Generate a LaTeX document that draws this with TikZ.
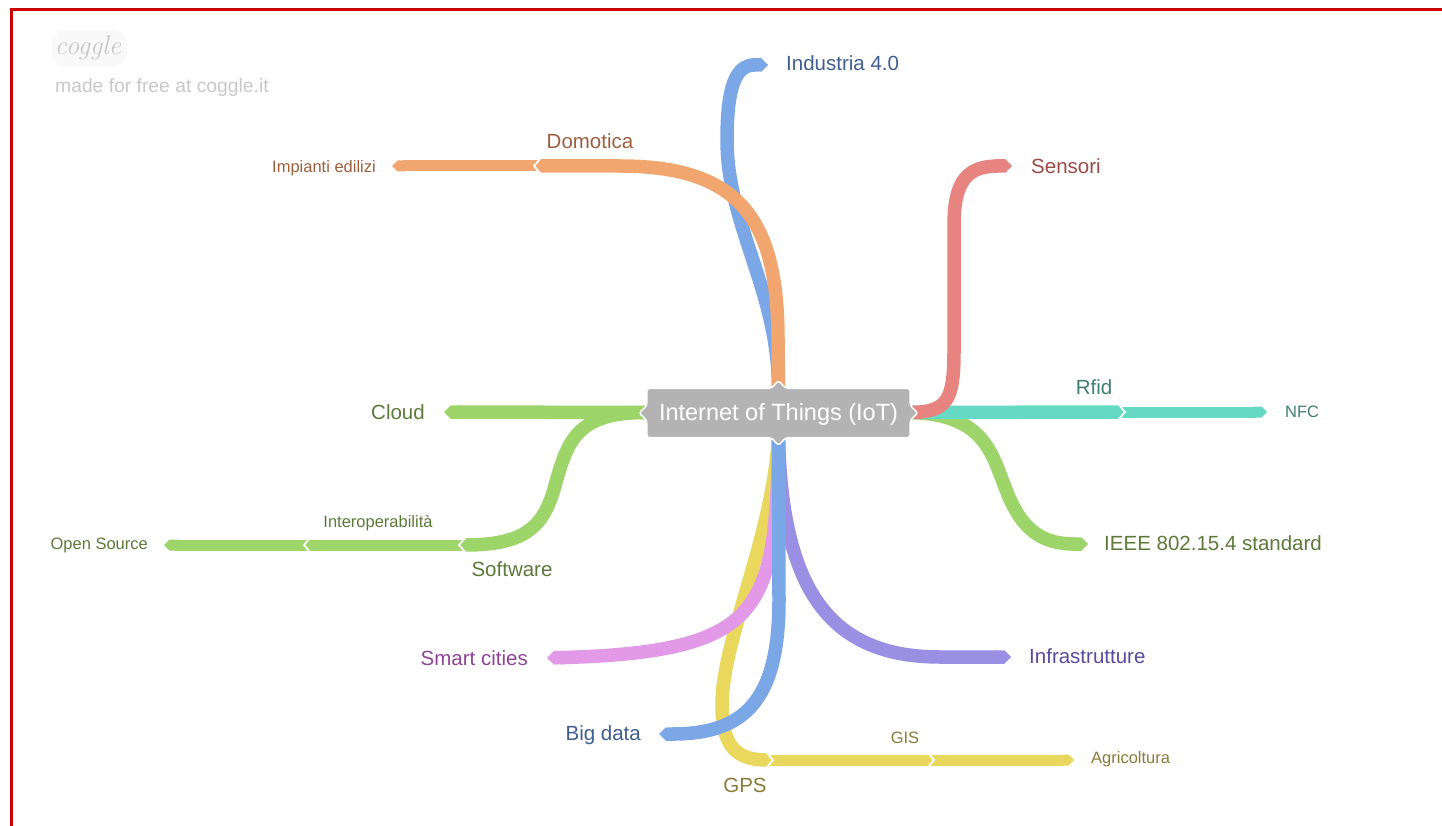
\documentclass[tikz,border=0pt]{standalone}
\usepackage{fontspec}
\setsansfont{Liberation Sans}
\usetikzlibrary{arrows.meta,calc}
\pgfdeclarelayer{branches}
\pgfdeclarelayer{nodebg}
\pgfsetlayers{branches,nodebg,main}
\definecolor{cblue}{HTML}{7BA7E6}
\definecolor{corange}{HTML}{F0A66E}
\definecolor{cred}{HTML}{E8847F}
\definecolor{cteal}{HTML}{66D9C5}
\definecolor{cgreen}{HTML}{9DD56A}
\definecolor{cpurple}{HTML}{9A8FE3}
\definecolor{cpink}{HTML}{E29AE8}
\definecolor{cyellow}{HTML}{EAD75E}
\definecolor{cgrey}{HTML}{B3B3B3}
\definecolor{tblue}{HTML}{3F5E91}
\definecolor{torange}{HTML}{9C5F3E}
\definecolor{tred}{HTML}{9C4A45}
\definecolor{tteal}{HTML}{3F8070}
\definecolor{tgreen}{HTML}{5C7A3A}
\definecolor{tpink}{HTML}{8E4596}
\definecolor{tpurple}{HTML}{5A4A9E}
\definecolor{tyellow}{HTML}{8A7B3A}
\definecolor{logogrey}{HTML}{C8C8C8}
\definecolor{frame}{HTML}{CC0000}
\tikzset{
  br/.style={line width=13.5pt, line cap=butt},
  subbr/.style={line width=11pt, line cap=butt},
  endtip/.style={-{Triangle Cap[]}},
  notch/.style={draw=white, line width=1.8pt, line cap=round, line join=miter},
  lbl/.style={font=\sffamily\fontsize{20.5}{24}\selectfont, inner sep=0pt, text height=0.72em, text depth=0pt, yshift=-3.5pt},
  slbl/.style={font=\sffamily\fontsize{16.5}{20}\selectfont, inner sep=0pt, text height=0.72em, text depth=0pt, yshift=-3pt},
}
\begin{document}
\begin{tikzpicture}[x=1pt, y=-1pt]
\useasboundingbox (0,0) rectangle (1442,826);
% frame
\draw[frame, line width=3.5pt] (11.5,840) -- (11.5,9.5) -- (1460,9.5);
% logo
\fill[gray!5, rounded corners=14pt] (52,30) rectangle (127,67);
\node[font=\rmfamily\itshape\fontsize{27}{30}\selectfont, text=logogrey, inner sep=0pt] (logo) at (88,48) {coggle};
\node[font=\sffamily\fontsize{19.3}{22}\selectfont, text=logogrey, inner sep=0pt, anchor=west, text height=0.72em, text depth=0pt, yshift=-3.5pt] (made) at (55,85) {made for free at coggle.it};

% central node
\node[font=\sffamily\fontsize{23.5}{28}\selectfont, text=white, minimum width=263pt, minimum height=49pt, inner sep=0pt] (iot) at (778.5,412.5) {};
\node[font=\sffamily\fontsize{23.5}{28}\selectfont, text=white, inner sep=0pt, text height=0.72em, text depth=0pt, yshift=-4pt] (iottext) at (iot.center) {Internet of Things (IoT)};

% labels
\node[lbl, text=torange] (domotica) at (590,141) {Domotica};
\node[slbl, text=torange, anchor=east] (impianti) at (376,166) {Impianti edilizi};
\node[lbl, text=tblue, anchor=west] (industria) at (786,63) {Industria 4.0};
\node[lbl, text=tred, anchor=west] (sensori) at (1031,166) {Sensori};
\node[lbl, text=tteal] (rfid) at (1094,387) {Rfid};
\node[slbl, text=tteal, anchor=west] (nfc) at (1285,411) {NFC};
\node[lbl, text=tgreen, anchor=west] (ieee) at (1104,543) {IEEE 802.15.4 standard};
\node[lbl, text=tgreen, anchor=east] (cloud) at (425,412) {Cloud};
\node[lbl, text=tgreen] (software) at (512,569) {Software};
\node[slbl, text=tgreen] (interop) at (378,521) {Interoperabilità};
\node[slbl, text=tgreen, anchor=east] (opensrc) at (148,543) {Open Source};
\node[lbl, text=tpink, anchor=east] (smart) at (528,658) {Smart cities};
\node[lbl, text=tpurple, anchor=west] (infra) at (1029,656) {Infrastrutture};
\node[lbl, text=tblue, anchor=east] (bigdata) at (641,733) {Big data};
\node[lbl, text=tyellow] (gps) at (745,785) {GPS};
\node[slbl, text=tyellow] (gis) at (905,737) {GIS};
\node[slbl, text=tyellow, anchor=west] (agri) at (1091,757) {Agricoltura};

% connector end points and junctions
\coordinate (eind) at (768,65);
\coordinate (jdom) at (540,166);
\coordinate (eimp) at (392,166);
\coordinate (esens) at (1012,166);
\coordinate (jrfid) at (1119,412);
\coordinate (enfc) at (1267,412);
\coordinate (eieee) at (1088,544);
\coordinate (ecloud) at (444,412);
\coordinate (jsoft) at (465,545);
\coordinate (jint) at (310,545);
\coordinate (eos) at (164,545);
\coordinate (esmart) at (547,658);
\coordinate (ebig) at (659,734);
\coordinate (einfra) at (1011,657);
\coordinate (jgps) at (767,760);
\coordinate (jgis) at (928,760);
\coordinate (eagri) at (1074,760);

\begin{pgfonlayer}{branches}
% bottom branches
\draw[br, cyellow] (iot.south) .. controls (772,540) and (722,640) .. (722,705) .. controls (722,745) and (735,760) .. (jgps);
\draw[subbr, cyellow] (jgps) -- (jgis);
\draw[subbr, cyellow, endtip] (jgis) -- (eagri);
\draw[notch] ($(jgps)+(0,-7)$) -- ($(jgps)+(6,0)$) -- ($(jgps)+(0,7)$);
\draw[notch] ($(jgis)+(0,-7)$) -- ($(jgis)+(6,0)$) -- ($(jgis)+(0,7)$);
\draw[br, cpink, endtip] (iot.south) .. controls (776,610) and (765,652) .. (esmart);
\draw[br, cpurple, endtip] (iot.south) .. controls (782,590) and (830,657) .. (940,657) -- (einfra);
\draw[br, cblue, endtip] (iot.south) -- (779,600) .. controls (779,700) and (745,734) .. (ebig);
% top branches
\draw[br, cblue, endtip] (iot.north) .. controls (778,290) and (727,225) .. (727,140) .. controls (727,86) and (736,65) .. (eind);
\draw[subbr, corange, endtip] (jdom) -- (eimp);
\draw[br, corange] (iot.north) -- (778,340) .. controls (778,220) and (740,166) .. (620,166) -- (jdom);
\draw[notch] ($(jdom)+(0,-7)$) -- ($(jdom)+(-6,0)$) -- ($(jdom)+(0,7)$);
% right branches
\draw[br, cgreen, endtip] (iot.east) .. controls (985,414) and (992,455) .. (1005,487) .. controls (1020,528) and (1040,544) .. (eieee);
\draw[br, cteal] (iot.east) -- (jrfid);
\draw[subbr, cteal, endtip] (jrfid) -- (enfc);
\draw[notch] ($(jrfid)+(0,-7)$) -- ($(jrfid)+(6,0)$) -- ($(jrfid)+(0,7)$);
\draw[br, cred, endtip] (iot.east) .. controls (948,412) and (954,400) .. (954,350) -- (954,225) .. controls (954,180) and (968,166) .. (esens);
% left branches
\draw[br, cgreen, endtip] (iot.west) -- (ecloud);
\draw[br, cgreen] (iot.west) .. controls (578,412) and (568,440) .. (556,482) .. controls (545,525) and (528,545) .. (jsoft);
\draw[subbr, cgreen] (jsoft) -- (jint);
\draw[subbr, cgreen, endtip] (jint) -- (eos);
\draw[notch] ($(jsoft)+(0,-7)$) -- ($(jsoft)+(-6,0)$) -- ($(jsoft)+(0,7)$);
\draw[notch] ($(jint)+(0,-7)$) -- ($(jint)+(-6,0)$) -- ($(jint)+(0,7)$);
\end{pgfonlayer}

\begin{pgfonlayer}{nodebg}
\path[fill=cgrey, draw=white, line width=1.5pt, rounded corners=3pt]
  ($(iot.north west)+(0,0.5)$) -- ($(iot.north)+(-7,0.5)$) -- ($(iot.north)+(0,-7.5)$) -- ($(iot.north)+(7,0.5)$)
  -- ($(iot.north east)+(0,0.5)$) -- ($(iot.east)+(0,-6.5)$) -- ($(iot.east)+(8,0.5)$) -- ($(iot.east)+(0,7.5)$)
  -- ($(iot.south east)+(0,0.5)$) -- ($(iot.south)+(7,0.5)$) -- ($(iot.south)+(0,8.5)$) -- ($(iot.south)+(-7,0.5)$)
  -- ($(iot.south west)+(0,0.5)$) -- ($(iot.west)+(0,7.5)$) -- ($(iot.west)+(-8,0.5)$) -- ($(iot.west)+(0,-6.5)$)
  -- cycle;
\end{pgfonlayer}
\end{tikzpicture}
\end{document}
